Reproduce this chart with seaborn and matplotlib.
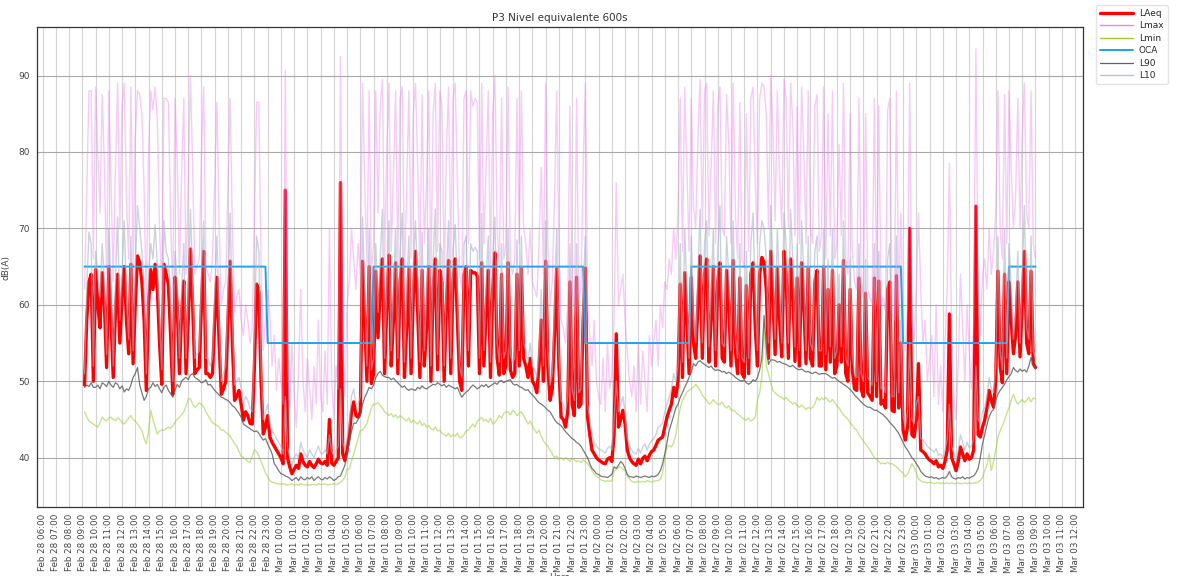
import numpy as np
import pandas as pd
import matplotlib
matplotlib.use("Agg")
import matplotlib.pyplot as plt
import matplotlib.dates as mdates
import seaborn as sns

# ---------------- data (10-minute samples, Feb 28 09:10 -> Mar 03 09:00) ----------------
start_time = "2023-02-28 09:10"
sample_step = "10min"

laeq = [
    49.5, 58, 63, 64, 50, 64.6,        # Feb 28 09h
    60, 57, 64.2, 60, 51.8, 65,
    58, 50.5, 59, 64, 55, 61,
    65, 58, 53.6, 65.3, 52.3, 60,
    66.4, 65.5, 63, 58, 48.8, 60,
    64.6, 62, 65.3, 62, 55, 49.6,
    65.3, 64, 62.7, 56, 48.3, 63.6,
    60, 51, 59, 63.1, 51, 58,
    67.3, 60, 51, 51.5, 51.8, 60,
    67, 51, 51, 50.5, 51, 58,
    63.6, 55, 48.3, 49, 50, 58,
    65.7, 55, 47.5, 48, 48.8, 47,
    44.9, 46, 45.5, 44.5, 44.4, 52,
    62.7, 61.8, 50, 43.1, 44, 45.5,
    42.7, 42, 41.5, 41, 40.5, 40,       # Feb 28 23h
    39.2, 75, 40, 38.8, 37.9, 38.5,     # Mar 01 00h
    39, 38.6, 40.5, 39.5, 39, 38.8,
    39.5, 39, 38.7, 39.2, 39.8, 39.3,
    39.2, 39.5, 39, 45, 39.3, 39,
    39.5, 40, 76, 40.5, 39.6, 41,
    43, 46, 47.3, 45.5, 45.3, 46,
    65.7, 58, 50, 65, 49.7, 51,
    64.4, 55.7, 62, 66, 51, 60,
    66.5, 52, 58, 65.5, 51, 63,
    66, 50.5, 57, 64.8, 51, 61,
    67, 59, 50.5, 64.5, 52, 57,
    65, 50, 62, 66, 51.5, 64.5,
    63, 50, 60, 65.8, 51, 63,
    66, 58, 50, 48.8, 64, 65,
    52, 64.5, 64.2, 64.2, 63.8, 51,
    65.5, 52, 59, 64.5, 50.5, 62,
    66.8, 53, 50.8, 64, 51, 52,
    65.5, 51.5, 50.5, 51, 64, 52,
    64.9, 53, 52, 50.5, 53, 50,
    49.5, 48.5, 52, 58, 50, 65.7,
    52, 47.5, 49, 56, 64.8, 52,
    45.3, 45, 44, 46, 63, 47,
    45.5, 63.6, 46.6, 47, 58, 64.8,
    45.3, 43, 41, 40.5, 40, 39.7,       # Mar 01 23h
    39.5, 39.3, 39.2, 39.8, 40, 39.5,   # Mar 02 00h
    43, 56.2, 44, 45, 46.2, 44.4,
    41, 40, 39.5, 39.2, 39, 39.8,
    39.2, 39.9, 40.2, 39.6, 40.3, 40.8,
    41, 41.6, 42.3, 42.5, 42.7, 44,
    45.3, 46.2, 47, 49.2, 48, 50,
    62.7, 50.5, 64.2, 58, 51, 63.6,
    55, 53, 60, 66.4, 53, 64,
    66, 52.5, 58, 65, 52, 63,
    65.5, 53, 52.5, 64.5, 60, 52,
    65.8, 54, 51, 63.5, 51, 50.5,
    62.5, 51, 64, 65.5, 57, 52,
    64, 66.2, 65.5, 62, 53, 67,
    61, 53.5, 64.8, 58, 53.2, 67,
    64, 53, 66, 62, 52.6, 63.5,
    52, 65.5, 60, 52.3, 64.8, 53,
    52, 63, 64.5, 52, 52, 65,
    51.5, 62, 52.5, 64.5, 51, 52,
    60, 52.5, 65.8, 51, 50, 62,
    51.5, 49, 48.8, 63.5, 49, 48,
    61.5, 48.5, 48, 47.5, 63.5, 48,
    63.1, 47, 47.5, 46.5, 62, 63,
    46.2, 46, 63.8, 46.5, 55, 43.6,
    42.3, 44, 70, 43, 42.7, 45,         # Mar 02 23h
    52.3, 41, 40.8, 40.5, 40, 39.7,     # Mar 03 00h
    39.5, 39.2, 39.6, 38.8, 39, 38.6,
    39.5, 41, 58.8, 40, 39.2, 38.3,
    39.5, 41.4, 40.5, 39.6, 40.5, 39.8,
    40, 41, 72.9, 43, 42.7, 44,
    44.9, 46.5, 48.8, 47.5, 46.6, 50,
    64.4, 52, 49.8, 64, 51, 63,
    58, 53.6, 56, 63, 53.2, 60,
    67, 55, 53.6, 64.4, 52.3, 51.8,
]

lmax = [
    62, 75, 88, 88, 66, 88.5,
    80, 72, 87.5, 78, 64, 88,
    76, 63, 78, 89, 70, 86,
    89, 74, 66, 88.5, 65, 82,
    88, 87.5, 85, 75, 60, 80,
    88, 85.5, 88.5, 84, 70, 62,
    87, 87, 86.5, 72, 61, 87,
    79, 64, 77, 87, 64, 76,
    90, 78, 64, 65, 66, 80,
    88.5, 65, 64, 63, 66, 76,
    86.5, 70, 60, 62, 63, 76,
    87, 70, 59, 61, 62, 58,
    56, 60, 58, 55, 57, 72,
    86.5, 86.5, 65, 54, 58, 62,
    58.8, 52, 56, 48.8, 53, 50,
    47, 90.7, 52, 46.6, 55, 48,
    44, 51, 62, 50, 46, 53,
    49, 45, 52, 47, 58, 48,
    46, 54, 47, 70, 50, 45,
    52, 49, 92.5, 55, 48, 60,
    63, 70, 66, 62, 68, 64,
    89, 76, 65, 88, 64, 68,
    88, 72, 86, 89.5, 66, 80,
    89, 67, 77, 88, 65, 87,
    88.5, 64, 75, 88, 66, 85,
    89, 78, 64, 87.5, 68, 76,
    88, 64, 85, 89, 67, 88,
    86, 63, 80, 88.5, 66, 87,
    89, 76, 64, 62, 87, 88,
    68, 88, 86, 87, 86.5, 66,
    89, 68, 78, 88, 64, 85,
    90, 70, 65, 87, 66, 68,
    88.5, 66, 64, 66, 87, 68,
    88, 70, 68, 64, 70, 63,
    62, 61, 68, 78, 64, 89,
    68, 60, 63, 74, 88, 67,
    58, 57, 55, 60, 86, 62,
    59, 87, 61, 62, 78, 89,
    60, 56, 52, 58, 50, 48,
    47, 53, 46, 55, 49, 51,
    58, 76, 60, 62, 64, 58,
    54, 50, 48, 52, 46, 55,
    47, 54, 50, 46, 56, 52,
    55, 58, 52, 60, 57, 63,
    62, 66, 64, 70, 66, 72,
    87, 67, 88.5, 78, 67, 87,
    73, 70, 82, 89.5, 70, 88,
    89, 69, 78, 88, 68, 86,
    88.5, 70, 69, 87.5, 81, 68,
    89, 72, 66, 86.5, 66, 65,
    85, 67, 87, 88.5, 76, 68,
    87, 89, 88.5, 85, 70, 90,
    83, 71, 88, 77, 70, 89.5,
    87, 70, 89, 84, 69, 86,
    68, 88.5, 80, 68, 88, 70,
    68, 86, 87.5, 67, 69, 88.5,
    66, 85, 69, 88, 66, 68,
    81, 69, 89, 66, 64, 85,
    67, 63, 62, 87, 63, 61,
    85, 62, 61, 60, 87, 62,
    86, 60, 61, 59, 85.5, 87,
    59, 58, 88, 60, 72, 56,
    54, 60, 89, 58, 55, 62,
    72, 62, 55, 58, 50, 53,
    56, 48, 60, 47, 52, 46,
    55, 62, 78.5, 56, 48, 45,
    52, 64, 57, 50, 60, 54,
    49, 58, 93.5, 62, 56, 64,
    66, 62, 70, 64, 67, 72,
    88, 70, 66, 87.5, 68, 88,
    78, 70, 74, 87, 70, 82,
    89, 72, 70, 88, 68, 66,
]

lmin = [
    46, 45.3, 44.8, 44.6, 44.4, 44.2,
    44, 44.6, 45.3, 45, 44.8, 45.2,
    45.3, 45, 44.8, 45.2, 45, 44.6,
    44.4, 44.8, 45.2, 45.5, 45, 44.8,
    44.4, 44, 43.5, 42.5, 41.8, 43.5,
    46.2, 45, 44, 43.1, 43.5, 43.6,
    43.6, 43.8, 44, 43.8, 44.2, 44.6,
    45, 45.3, 45.6, 46, 46.8, 47.7,
    47.7, 47, 46.6, 46.8, 47.2, 47,
    46.6, 46, 45.5, 45, 44.6, 44.4,
    44.2, 44, 43.6, 43.6, 43.3, 43.1,
    42.8, 42.3, 41.8, 41.5, 40.8, 40.2,
    40, 39.8, 39.5, 39.4, 40.2, 41,
    40.8, 40.2, 39.5, 38.8, 38, 37.5,
    37, 36.8, 36.7, 36.6, 36.6, 36.5,
    36.6, 36.5, 36.4, 36.5, 36.6, 36.4,
    36.5, 36.4, 36.6, 36.5, 36.4, 36.5,
    36.4, 36.5, 36.5, 36.4, 36.6, 36.5,
    36.5, 36.6, 36.4, 36.5, 36.5, 36.6,
    36.5, 36.6, 36.8, 37, 37.5, 38.5,
    38.5, 39.5, 40.5, 41.5, 42.5, 43.6,
    43.6, 44, 44.5, 45.5, 46.5, 47,
    47, 47.2, 46.8, 46.5, 46, 45.8,
    45.5, 45.8, 45.3, 45.6, 45.2, 45.5,
    45.3, 45, 44.8, 45.2, 44.6, 44.9,
    44.6, 44.4, 44.8, 44.2, 44.5, 44,
    44.2, 43.8, 43.6, 44, 43.5, 43.6,
    43.2, 43, 42.8, 43.2, 42.7, 43,
    42.8, 43.2, 42.6, 42.7, 43, 43.5,
    43.6, 44, 44.4, 44, 44.8, 45,
    45.3, 44.8, 45, 44.6, 45.2, 44.4,
    44.6, 45, 45.5, 45.2, 45.8, 46,
    46, 45.6, 46.2, 46, 45.5, 45.8,
    46, 45.5, 45, 44.4, 44.8, 44.2,
    43.6, 43.2, 43.6, 42.8, 42.2, 41.8,
    41.5, 41, 40.5, 40, 40.2, 39.8,
    40, 39.7, 40, 39.8, 39.5, 39.9,
    39.7, 39.5, 39.6, 39.4, 39.7, 39.5,
    39.2, 38.8, 38.3, 37.8, 37.5, 37.4,
    37.1, 37, 36.9, 37, 36.9, 37,
    38.2, 38.5, 38.7, 38.8, 38.5, 38.3,
    37.6, 37.2, 36.9, 36.8, 36.8, 36.9,
    36.8, 36.9, 36.8, 37, 36.9, 36.8,
    36.9, 37, 37, 37.2, 38, 40,
    41.4, 41.6, 41.4, 42, 43, 44.9,
    46.5, 47.5, 48, 48.6, 48.8, 49,
    49.2, 49.6, 49.2, 48.8, 48.2, 47.8,
    47.5, 47, 47.2, 47.6, 47.2, 47,
    47, 47.3, 46.8, 46.5, 46.8, 46.2,
    46.2, 46, 45.7, 45.5, 45.2, 45,
    44.9, 45.2, 44.8, 45, 45.3, 47.5,
    48.5, 50.5, 57.5, 52, 51, 49.8,
    48.8, 48.5, 48.2, 48, 47.9, 47.6,
    47.9, 47.5, 47.3, 47, 47.2, 46.8,
    46.6, 46.9, 46.6, 46.3, 46.6, 46.4,
    46.6, 47, 47.9, 47.5, 47.8, 47.6,
    47.9, 47.5, 47.3, 47.6, 47.2, 46.8,
    46.5, 46, 45.6, 45.3, 45, 44.6,
    44.2, 43.8, 43.6, 43, 42.6, 42.2,
    41.8, 41.4, 41, 40.5, 40, 39.8,
    39.5, 39.2, 39.3, 39.2, 39.4, 39.2,
    39.2, 39, 38.8, 38.5, 38.2, 38,
    37.5, 37.8, 38.5, 39.2, 38.8, 38,
    37.2, 37, 36.8, 36.8, 36.7, 36.8,
    36.7, 36.6, 36.7, 36.7, 36.6, 36.7,
    36.6, 36.7, 36.6, 36.7, 36.6, 36.6,
    36.7, 36.6, 36.6, 36.7, 36.6, 36.7,
    36.6, 36.7, 36.7, 36.8, 37, 37.4,
    38.3, 39, 40.5, 38.3, 39.5, 41,
    42.7, 43.5, 44.2, 44.9, 45.8, 46.5,
    47.5, 48.3, 47.5, 47, 47.3, 47.6,
    47.2, 47.5, 47.9, 47.3, 47.8, 47.7,
]

l90 = [
    49.2, 49.5, 49.3, 49.8, 49.2, 49.2,
    49.5, 49, 49.8, 49.6, 49.3, 50,
    49.5, 49.2, 49.8, 49.6, 49, 49.4,
    48.6, 49, 48.8, 49.5, 50.5, 51,
    51.8, 49.5, 48.5, 47.5, 48, 49,
    49.2, 49.8, 49.3, 49.6, 49, 48.5,
    49.2, 49.5, 48.8, 48.4, 47.9, 48.8,
    49.6, 49.2, 50, 50.3, 50.5, 50.2,
    50.8, 51, 50.5, 50.3, 50.1, 49.8,
    49.9, 50.2, 49.5, 49.6, 49.2, 48.8,
    48.5, 48.2, 47.9, 47.8, 47.6, 47.5,
    47.2, 46.8, 46.6, 46.2, 45.8, 45.3,
    44.4, 44.2, 44, 43.8, 43.6, 43.4,
    43.5, 43.2, 42.7, 42.3, 42.5, 41.8,
    41.2, 40.5, 39.2, 38.8, 38.3, 37.9,
    37.8, 37.6, 37.5, 37.3, 37, 37.2,
    37.4, 37, 37.5, 37.2, 37.1, 37.4,
    37.2, 37.5, 37, 37.3, 37.5, 37.2,
    37.1, 37.4, 37.2, 37.5, 37.3, 37,
    37.2, 37.5, 37.6, 38.3, 39, 40.5,
    42, 43.5, 44.5, 44.5, 45, 45.5,
    47, 47.9, 48.5, 49.2, 49, 49.5,
    50.5, 51, 51.3, 50.8, 50.6, 50.5,
    50.5, 50.2, 50.4, 50.1, 49.8, 49.5,
    49.2, 49.4, 49, 48.8, 49, 48.9,
    48.8, 49.2, 49, 49.4, 49.1, 49,
    49.2, 49.4, 49.6, 49.5, 49.8, 49.6,
    49.4, 49.6, 49.2, 49.5, 49.3, 49.2,
    49, 49.2, 48.5, 47.9, 48.3, 48.6,
    48.8, 49.2, 49.5, 49.3, 49, 49.2,
    49.5, 49.3, 49.6, 49.2, 49.4, 49.6,
    49.8, 49.6, 50, 50.1, 49.8, 50,
    50.1, 50.2, 49.7, 49.5, 49.6, 49.3,
    49.2, 49, 48.8, 48.9, 48.5, 48.2,
    47.9, 47.5, 47.2, 47, 46.8, 46.5,
    46.2, 46, 45.5, 45, 44.6, 44.4,
    44.2, 43.8, 43.4, 43.1, 42.8, 42.5,
    42.3, 42, 41.8, 41.5, 41, 40.5,
    40, 39.2, 38.6, 38.3, 37.9, 37.8,
    37.6, 37.5, 37.5, 37.4, 37.6, 37.8,
    38.8, 38.6, 39, 39.5, 39.2, 38.6,
    37.8, 37.5, 37.5, 37.4, 37.6, 37.5,
    37.4, 37.5, 37.6, 37.5, 37.4, 37.6,
    37.5, 37.6, 37.8, 38.3, 39.2, 40.5,
    42, 43.6, 44.5, 45.5, 46.5, 47,
    47.9, 48.5, 49.2, 49.8, 50.5, 51.2,
    52.3, 52, 52.5, 52.7, 52.4, 52.2,
    52, 51.8, 52, 51.6, 51.4, 51.5,
    51.4, 51.2, 51.3, 51, 51.2, 51,
    50.8, 50.5, 50.3, 50.1, 50, 50.2,
    49.8, 49.6, 49.8, 50.2, 50, 50.5,
    51.5, 53, 58.6, 54.5, 52.2, 52.8,
    52.8, 52.7, 52.5, 52.6, 52.4, 52.3,
    52.2, 52, 51.9, 52.1, 51.8, 51.6,
    51.5, 51.6, 51.4, 51.2, 51.3, 51.1,
    51, 51.2, 51.1, 50.9, 51, 51,
    51, 50.8, 50.6, 50.4, 50.5, 50.2,
    50, 49.8, 49.6, 49.4, 49.2, 48.9,
    48.6, 48.2, 47.9, 47.6, 47.3, 47,
    46.8, 46.6, 46.6, 46.4, 46.2, 46.2,
    46, 45.8, 45.6, 45.3, 45, 44.6,
    44.3, 44, 43.6, 43.2, 42.6, 42,
    41.4, 41, 40.5, 40, 39.7, 39.2,
    38.8, 38.2, 37.9, 37.6, 37.5, 37.4,
    37.5, 37.3, 37.4, 37.2, 37.3, 37.4,
    37.3, 37.6, 38.2, 37.5, 37.3, 37.2,
    37.4, 37.3, 37.5, 37.2, 37.4, 37.3,
    37.5, 37.6, 38, 38.6, 40, 41.8,
    43, 44.3, 45.3, 46, 46.3, 47.5,
    48.3, 48.8, 49.2, 49.6, 50.2, 50.6,
    51, 51.8, 51.4, 51.2, 51.6, 51.3,
    51.5, 51.2, 52, 53.1, 52.2, 51.6,
]

l10 = [
    51, 62, 69.5, 68, 52, 67,
    64, 61, 68, 63, 53.5, 70,
    62, 52, 63, 71.5, 58, 64,
    71, 61, 55.5, 69, 54, 65,
    73, 70, 67, 62, 51, 64,
    68, 66, 70.5, 65, 58, 51.5,
    71, 67, 66, 60, 50, 67,
    63, 53, 62, 68, 53, 62,
    72.5, 63, 53, 53.5, 54, 64,
    71, 53, 53, 52, 53, 62,
    69, 58, 50, 51, 52, 62,
    72, 58, 49.5, 50, 50.5, 49,
    47, 48, 47.5, 46.5, 46, 56,
    69, 67, 52, 45, 46, 47,
    44.5, 43.5, 43, 42.5, 42, 41.5,
    40.5, 48, 41.5, 40, 39, 40,
    40.5, 40, 42, 41, 40.5, 40,
    41, 40.5, 40, 40.8, 41.5, 40.6,
    40.5, 41, 40.5, 43, 40.8, 40.3,
    41, 41.5, 49, 42, 41, 42.5,
    44.5, 48, 49, 47, 47, 48,
    71.5, 62, 52, 70, 51.5, 53,
    68, 59, 66, 72.5, 53, 63,
    71, 54, 62, 70, 53, 67,
    72, 52.5, 61, 69, 53, 65,
    71, 63, 52.5, 69.5, 54, 61,
    70, 52, 66, 72.5, 53.5, 68,
    67, 52, 64, 71, 53, 67,
    70.5, 62, 52, 50.5, 68, 69,
    54, 68, 67, 67.5, 67, 53,
    72, 54, 63, 69, 52.5, 66,
    71.5, 55, 52.5, 68, 53, 54,
    70, 53.5, 52.5, 53, 68.5, 54,
    69, 55, 54, 52.5, 55, 52,
    51.5, 50.5, 54, 62, 52, 71,
    54, 49.5, 51, 60, 70, 54,
    47.5, 47, 46, 48, 68, 49,
    47.5, 68, 48.5, 49, 62, 69,
    47, 45, 43, 42, 41.5, 41.2,
    41, 40.8, 40.6, 41.2, 41.5, 41,
    45, 50, 46, 47, 48, 46,
    42.5, 41.5, 41, 40.6, 40.5, 41.2,
    40.6, 41.4, 41.8, 41, 41.8, 42.2,
    42.5, 43, 44, 44.2, 44.5, 46,
    47, 48, 49, 51, 50, 52,
    68, 52.5, 70, 62, 53, 69,
    58, 55, 64, 72.5, 55, 68,
    71, 54.5, 62, 70, 54, 67,
    73, 55, 54.5, 69, 64, 54,
    71, 56, 53, 68, 53, 52.5,
    67, 53, 68, 72, 61, 54,
    68, 71, 70, 66, 55, 73,
    65, 55.5, 70, 62, 55, 72,
    68, 55, 72.5, 66, 54.5, 68,
    54, 71, 64, 54, 69, 55,
    54, 67, 69, 54, 54, 70,
    53.5, 66, 54.5, 70, 53, 54,
    64, 54.5, 71, 53, 52, 66,
    53.5, 51, 50.5, 68, 51, 50,
    66, 50.5, 50, 49.5, 68, 50,
    67, 49, 49.5, 48.5, 66, 68,
    48, 48, 69, 48.5, 58, 45.5,
    44, 46, 55, 45, 44.5, 47,
    48, 42.5, 42.3, 42, 41.5, 41.2,
    41, 40.7, 41.2, 40.3, 40.5, 40,
    41, 42.5, 47, 41.5, 40.6, 39.8,
    41, 43, 42, 41, 42, 41.3,
    41.5, 42.5, 52, 45, 44.5, 46,
    46.5, 48, 50.5, 49, 48.5, 52,
    69, 54, 51.5, 70, 53, 68,
    62, 55.5, 59, 67, 55, 64,
    73, 57, 55.5, 69, 54, 53,
]

# OCA limit: level per period and the times at which it switches
oca_levels = [65, 55, 65, 55, 65, 55, 65]
oca_switch_times = ["2023-02-28 23:00", "2023-03-01 07:00", "2023-03-01 23:00",
                    "2023-03-02 07:00", "2023-03-02 23:00", "2023-03-03 07:00"]

series_names = ["LAeq", "Lmax", "Lmin", "OCA", "L90", "L10"]
title_text = "P3 Nivel equivalente 600s"
x_label = "Hora"
y_label = "dB(A)"

# ---------------- build frame ----------------
times = pd.date_range(start_time, periods=len(laeq), freq=sample_step)
switch = pd.to_datetime(oca_switch_times).values
oca_idx = np.searchsorted(switch, times.values, side="right")
oca = np.array(oca_levels)[oca_idx]

df = pd.DataFrame({"Hora": times, "LAeq": laeq, "Lmax": lmax, "Lmin": lmin,
                   "OCA": oca, "L90": l90, "L10": l10})

# ---------------- plot ----------------
sns.set_theme(style="white")
plt.rcParams["font.family"] = ["DejaVu Sans"]

W, H = 1180, 576
fig = plt.figure(figsize=(W / 100, H / 100), dpi=100)
ax = fig.add_axes([37 / W, 1 - 507 / H, (1083 - 37) / W, (507 - 27) / H])

styles = {
    "LAeq": dict(color="#ff0000", lw=2.4, alpha=1.0),
    "Lmax": dict(color="#ee82ee", lw=1.0, alpha=0.42),
    "Lmin": dict(color="#9acd32", lw=1.0, alpha=0.55),
    "OCA":  dict(color="#22a2e6", lw=1.4, alpha=1.0),
    "L90":  dict(color="#606060", lw=0.9, alpha=0.85),
    "L10":  dict(color="#a8b4c8", lw=1.0, alpha=0.6),
}
for name in series_names:
    st = styles[name]
    sns.lineplot(data=df, x="Hora", y=name, ax=ax, label=name,
                 color=st["color"], linewidth=st["lw"], alpha=st["alpha"])

ax.xaxis.set_major_locator(mdates.HourLocator(interval=1))
ax.xaxis.set_major_formatter(mdates.DateFormatter("%b %d %H:%M"))
ax.set_yticks([40, 50, 60, 70, 80, 90])
ax.tick_params(axis="x", labelrotation=90, labelsize=6.3, length=3, pad=2, colors="#333333")
ax.tick_params(axis="y", labelsize=6.5, length=3, pad=2, colors="#333333")
for lab in ax.get_xticklabels() + ax.get_yticklabels():
    lab.set_color("#444444")

ax.grid(True, axis="y", color="#a9a9a9", linewidth=0.8)
ax.grid(True, axis="x", color="#d4d4d4", linewidth=0.8)
ax.set_axisbelow(True)
for sp in ax.spines.values():
    sp.set_color("#333333")
    sp.set_linewidth(0.9)

ax.set_title(title_text, fontsize=7.5, pad=4, color="#333333")
ax.set_xlabel(x_label, fontsize=6.3, labelpad=0, color="#444444")
ax.set_ylabel(y_label, fontsize=6.5, labelpad=6, color="#444444")

leg = ax.legend(loc="upper left", bbox_to_anchor=((1096 - 37) / 1046, (507 - 5) / 480),
                fontsize=6.5, frameon=True, borderaxespad=0, handlelength=3.6,
                labelspacing=0.38, borderpad=0.45, handletextpad=0.7)
leg.get_frame().set_edgecolor("#dddddd")
for line in leg.get_lines():
    line.set_alpha(1.0)
leg.get_lines()[5].set_color("#b8c2d2")

fig.savefig("out.png", dpi=100)
